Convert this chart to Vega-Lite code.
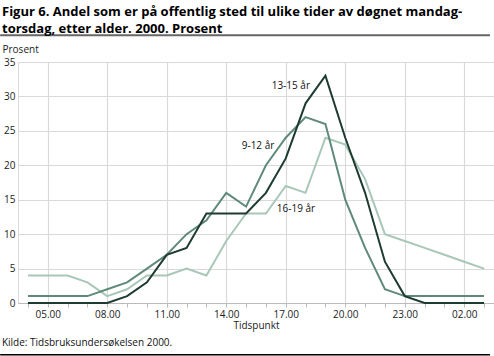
{
  "$schema": "https://vega.github.io/schema/vega-lite/v6.json",
  "width": 476,
  "height": 241,
  "autosize": "none",
  "padding": {"left": 18, "top": 62, "right": 0, "bottom": 53},
  "background": "white",
  "title": {
    "text": ["Figur 6. Andel som er på offentlig sted til ulike tider av døgnet mandag-", "torsdag, etter alder. 2000. Prosent"],
    "anchor": "start",
    "frame": "group",
    "dx": -16,
    "offset": -1.5,
    "font": "Open Sans",
    "fontSize": 13,
    "fontWeight": "bold",
    "color": "#000000",
    "lineHeight": 17
  },
  "config": {
    "view": {"stroke": "#d9d9d9", "strokeWidth": 1},
    "font": "Open Sans"
  },
  "resolve": {"axis": {"x": "independent", "y": "independent"}},
  "datasets": {
    "series": [
      {"hour": 4, "value": 4, "group": "16-19 år"},
      {"hour": 5, "value": 4, "group": "16-19 år"},
      {"hour": 6, "value": 4, "group": "16-19 år"},
      {"hour": 7, "value": 3, "group": "16-19 år"},
      {"hour": 8, "value": 1, "group": "16-19 år"},
      {"hour": 9, "value": 2, "group": "16-19 år"},
      {"hour": 10, "value": 4, "group": "16-19 år"},
      {"hour": 11, "value": 4, "group": "16-19 år"},
      {"hour": 12, "value": 5, "group": "16-19 år"},
      {"hour": 13, "value": 4, "group": "16-19 år"},
      {"hour": 14, "value": 9, "group": "16-19 år"},
      {"hour": 15, "value": 13, "group": "16-19 år"},
      {"hour": 16, "value": 13, "group": "16-19 år"},
      {"hour": 17, "value": 17, "group": "16-19 år"},
      {"hour": 18, "value": 16, "group": "16-19 år"},
      {"hour": 19, "value": 24, "group": "16-19 år"},
      {"hour": 20, "value": 23, "group": "16-19 år"},
      {"hour": 21, "value": 18, "group": "16-19 år"},
      {"hour": 22, "value": 10, "group": "16-19 år"},
      {"hour": 23, "value": 9, "group": "16-19 år"},
      {"hour": 24, "value": 8, "group": "16-19 år"},
      {"hour": 25, "value": 7, "group": "16-19 år"},
      {"hour": 26, "value": 6, "group": "16-19 år"},
      {"hour": 27, "value": 5, "group": "16-19 år"},
      {"hour": 4, "value": 1, "group": "9-12 år"},
      {"hour": 5, "value": 1, "group": "9-12 år"},
      {"hour": 6, "value": 1, "group": "9-12 år"},
      {"hour": 7, "value": 1, "group": "9-12 år"},
      {"hour": 8, "value": 2, "group": "9-12 år"},
      {"hour": 9, "value": 3, "group": "9-12 år"},
      {"hour": 10, "value": 5, "group": "9-12 år"},
      {"hour": 11, "value": 7, "group": "9-12 år"},
      {"hour": 12, "value": 10, "group": "9-12 år"},
      {"hour": 13, "value": 12, "group": "9-12 år"},
      {"hour": 14, "value": 16, "group": "9-12 år"},
      {"hour": 15, "value": 14, "group": "9-12 år"},
      {"hour": 16, "value": 20, "group": "9-12 år"},
      {"hour": 17, "value": 24, "group": "9-12 år"},
      {"hour": 18, "value": 27, "group": "9-12 år"},
      {"hour": 19, "value": 26, "group": "9-12 år"},
      {"hour": 20, "value": 15, "group": "9-12 år"},
      {"hour": 21, "value": 8, "group": "9-12 år"},
      {"hour": 22, "value": 2, "group": "9-12 år"},
      {"hour": 23, "value": 1, "group": "9-12 år"},
      {"hour": 24, "value": 1, "group": "9-12 år"},
      {"hour": 25, "value": 1, "group": "9-12 år"},
      {"hour": 26, "value": 1, "group": "9-12 år"},
      {"hour": 27, "value": 1, "group": "9-12 år"},
      {"hour": 4, "value": 0, "group": "13-15 år"},
      {"hour": 5, "value": 0, "group": "13-15 år"},
      {"hour": 6, "value": 0, "group": "13-15 år"},
      {"hour": 7, "value": 0, "group": "13-15 år"},
      {"hour": 8, "value": 0, "group": "13-15 år"},
      {"hour": 9, "value": 1, "group": "13-15 år"},
      {"hour": 10, "value": 3, "group": "13-15 år"},
      {"hour": 11, "value": 7, "group": "13-15 år"},
      {"hour": 12, "value": 8, "group": "13-15 år"},
      {"hour": 13, "value": 13, "group": "13-15 år"},
      {"hour": 14, "value": 13, "group": "13-15 år"},
      {"hour": 15, "value": 13, "group": "13-15 år"},
      {"hour": 16, "value": 16, "group": "13-15 år"},
      {"hour": 17, "value": 21, "group": "13-15 år"},
      {"hour": 18, "value": 29, "group": "13-15 år"},
      {"hour": 19, "value": 33, "group": "13-15 år"},
      {"hour": 20, "value": 24, "group": "13-15 år"},
      {"hour": 21, "value": 16, "group": "13-15 år"},
      {"hour": 22, "value": 6, "group": "13-15 år"},
      {"hour": 23, "value": 1, "group": "13-15 år"},
      {"hour": 24, "value": 0, "group": "13-15 år"},
      {"hour": 25, "value": 0, "group": "13-15 år"},
      {"hour": 26, "value": 0, "group": "13-15 år"},
      {"hour": 27, "value": 0, "group": "13-15 år"}
    ],
    "labels": [
      {"hour": 16.29, "value": 31.5, "text": "13-15 år"},
      {"hour": 14.78, "value": 22.8, "text": "9-12 år"},
      {"hour": 16.55, "value": 13.6, "text": "16-19 år"}
    ],
    "seps": [
      {"pos": 38.9, "kind": "top"},
      {"pos": -7.5, "kind": "bottom"}
    ]
  },
  "layer": [
    {
      "data": {"name": "series"},
      "mark": {"type": "line", "strokeWidth": 2, "strokeJoin": "miter", "clip": false},
      "encoding": {
        "x": {
          "field": "hour",
          "type": "quantitative",
          "scale": {"domain": [3.5, 27.5], "nice": false, "zero": false},
          "axis": {
            "title": "Tidspunkt",
            "titleFont": "Open Sans",
            "titleFontSize": 10,
            "titleFontWeight": "normal",
            "titleColor": "#222222",
            "titlePadding": 1,
            "values": [4,5,6,7,8,9,10,11,12,13,14,15,16,17,18,19,20,21,22,23,24,25,26,27],
            "labelExpr": "(datum.value % 3 == 2) ? (((datum.value % 24) < 10 ? '0' : '') + (datum.value % 24) + '.00') : ''",
            "labelFont": "Open Sans",
            "labelFontSize": 10,
            "labelColor": "#222222",
            "labelPadding": 2,
            "labelOverlap": false,
            "grid": true,
            "gridColor": "#d9d9d9",
            "gridWidth": 1.2,
            "gridOpacity": {"condition": {"test": "datum.value % 3 == 2", "value": 1}, "value": 0},
            "ticks": true,
            "tickSize": 4,
            "tickColor": "#bbbbbb",
            "domain": true,
            "domainColor": "#bbbbbb"
          }
        },
        "y": {
          "field": "value",
          "type": "quantitative",
          "scale": {"domain": [0, 35], "nice": false},
          "axis": {
            "title": "Prosent",
            "titleAngle": 0,
            "titleAlign": "left",
            "titleBaseline": "alphabetic",
            "titleX": -16,
            "titleY": -10,
            "titleFont": "Open Sans",
            "titleFontSize": 10,
            "titleFontWeight": "normal",
            "titleColor": "#222222",
            "values": [0, 5, 10, 15, 20, 25, 30, 35],
            "labelFont": "Open Sans",
            "labelFontSize": 10,
            "labelColor": "#222222",
            "labelPadding": 3,
            "labelOverlap": false,
            "ticks": false,
            "domain": false,
            "grid": true,
            "gridColor": "#d9d9d9",
            "gridWidth": 1.2
          }
        },
        "color": {
          "field": "group",
          "type": "nominal",
          "scale": {"domain": ["16-19 år", "9-12 år", "13-15 år"], "range": ["#a9c7b9", "#5f8a7a", "#1e3b31"]},
          "legend": null
        }
      }
    },
    {
      "data": {"name": "labels"},
      "mark": {"type": "text", "align": "left", "baseline": "middle", "font": "Open Sans", "fontSize": 10, "color": "#111111"},
      "encoding": {
        "x": {"field": "hour", "type": "quantitative", "axis": null},
        "y": {"field": "value", "type": "quantitative", "axis": null},
        "text": {"field": "text"}
      }
    },
    {
      "data": {"name": "seps"},
      "mark": {"type": "rule", "clip": false},
      "encoding": {
        "x": {"datum": 2.6, "type": "quantitative", "axis": null},
        "x2": {"datum": 27.3},
        "y": {"field": "pos", "type": "quantitative", "axis": null},
        "stroke": {"field": "kind", "type": "nominal", "scale": {"domain": ["top", "bottom"], "range": ["#666666", "#000000"]}, "legend": null},
        "strokeWidth": {"field": "kind", "type": "nominal", "scale": {"domain": ["top", "bottom"], "range": [2, 1.5]}, "legend": null}
      }
    },
    {
      "data": {"values": [{}]},
      "mark": {"type": "text", "align": "left", "baseline": "alphabetic", "font": "Open Sans", "fontSize": 10, "color": "#111111"},
      "encoding": {
        "x": {"datum": 2.69, "type": "quantitative", "axis": null},
        "y": {"datum": -6.2, "type": "quantitative", "axis": null},
        "text": {"value": "Kilde: Tidsbruksundersøkelsen 2000."}
      }
    }
  ]
}
